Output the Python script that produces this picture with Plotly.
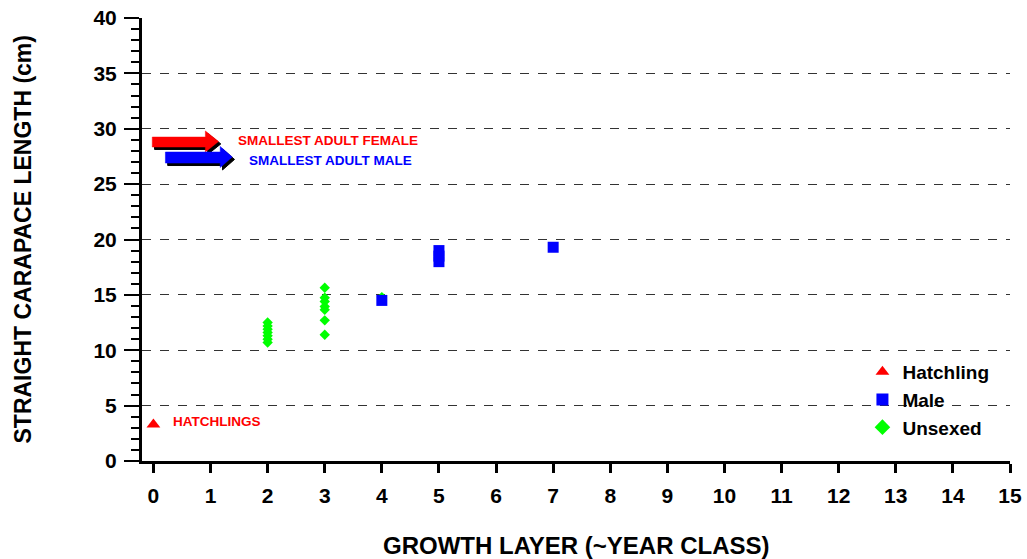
import plotly.graph_objects as go

# ---- data ----
hatch_x = [0]
hatch_y = [3.3]

male_x = [4, 5, 5, 5, 7]
male_y = [14.5, 18.0, 18.5, 19.0, 19.3]

unsexed_x = [2, 2, 2, 2, 2, 2, 2, 3, 3, 3, 3, 3, 3, 3, 4]
unsexed_y = [12.5, 12.2, 11.9, 11.6, 11.3, 11.0, 10.7,
             15.65, 14.75, 14.4, 13.95, 13.65, 12.7, 11.4, 14.8]

x_ticks = list(range(0, 16))
y_ticks = list(range(0, 41, 5))

# arrow annotations (data coordinates): shaft start x, shaft end x, tip x, shaft y0, y1, head y0, y1
female_arrow = dict(x0=-0.02, x1=0.91, xt=1.14, sy0=28.35, sy1=29.25, hy0=27.9, hy1=29.8)
male_arrow = dict(x0=0.21, x1=1.17, xt=1.38, sy0=26.9, sy1=27.9, hy0=26.5, hy1=28.4)

FONT = "Liberation Sans, Arial, sans-serif"

fig = go.Figure()
fig.add_trace(go.Scatter(x=unsexed_x, y=unsexed_y, mode="markers", name="<b>Unsexed</b>", legendrank=3,
                         marker=dict(symbol="diamond", size=8, color="#00ff00")))
fig.add_trace(go.Scatter(x=hatch_x, y=hatch_y, mode="markers", name="<b>Hatchling</b>", legendrank=1,
                         marker=dict(symbol="triangle-up", size=12, color="#ff0000")))
fig.add_trace(go.Scatter(x=male_x, y=male_y, mode="markers", name="<b>Male</b>", legendrank=2,
                         marker=dict(symbol="square", size=11, color="#0000ff")))


def arrow_path(a, dx=0.0, dy=0.0):
    ym = (a["hy0"] + a["hy1"]) / 2
    pts = [(a["x0"], a["sy0"]), (a["x1"], a["sy0"]), (a["x1"], a["hy0"]), (a["xt"], ym),
           (a["x1"], a["hy1"]), (a["x1"], a["sy1"]), (a["x0"], a["sy1"])]
    return "M " + " L ".join(f"{x+dx},{y+dy}" for x, y in pts) + " Z"


shapes = []
for a, col in [(female_arrow, "#ff0000"), (male_arrow, "#0000ff")]:
    shapes.append(dict(type="path", xref="x", yref="y", path=arrow_path(a, 0.04, -0.22),
                       fillcolor="#000000", line=dict(color="#000000", width=1), layer="above"))
    shapes.append(dict(type="path", xref="x", yref="y", path=arrow_path(a),
                       fillcolor=col, line=dict(color=col, width=0.5), layer="above"))

annotations = [
    dict(x=1.45, y=28.9, text="<b>SMALLEST ADULT FEMALE</b>", showarrow=False, xanchor="left",
         font=dict(family=FONT, size=13.5, color="#ff0000")),
    dict(x=1.63, y=27.15, text="<b>SMALLEST ADULT MALE</b>", showarrow=False, xanchor="left",
         font=dict(family=FONT, size=13.5, color="#0000ff")),
    dict(x=0.315, y=3.6, text="<b>HATCHLINGS</b>", showarrow=False, xanchor="left",
         font=dict(family=FONT, size=13.5, color="#ff0000")),
    # axis titles
    dict(xref="paper", yref="paper", x=0.5, y=0, yshift=-84, xanchor="center", yanchor="middle",
         text="<b>GROWTH LAYER (~YEAR CLASS)</b>", showarrow=False,
         font=dict(family=FONT, size=24, color="black")),
    dict(xref="paper", yref="paper", x=0, y=0.5, xshift=-120, xanchor="center", yanchor="middle",
         text="<b>STRAIGHT CARAPACE LENGTH (cm)</b>", textangle=-90, showarrow=False,
         font=dict(family=FONT, size=23, color="black")),
]

fig.update_layout(
    width=1027, height=559,
    margin=dict(l=142, r=17, t=18, b=98, autoexpand=False),
    paper_bgcolor="white", plot_bgcolor="white",
    font=dict(family=FONT, color="black"),
    shapes=shapes, annotations=annotations,
    showlegend=True,
    legend=dict(x=0.83, y=0.244, xanchor="left", yanchor="top", bgcolor="rgba(0,0,0,0)",
                font=dict(family=FONT, size=19, color="black"), tracegroupgap=0,
                itemsizing="constant"),
    xaxis=dict(range=[-0.2, 15], tickvals=x_ticks, ticktext=[f"<b>{v}</b>" for v in x_ticks],
               automargin=False, ticklabeloverflow="allow",
               showgrid=False, zeroline=False, showline=True, linecolor="black", linewidth=3,
               ticks="outside", ticklen=9, tickwidth=3, tickcolor="black", ticklabelstandoff=5,
               tickfont=dict(family=FONT, size=21, color="black")),
    yaxis=dict(range=[0, 40], tickvals=y_ticks, ticktext=[f"<b>{v}</b>" for v in y_ticks],
               automargin=False, ticklabeloverflow="allow",
               showgrid=True, gridcolor="#333333", griddash="dash", gridwidth=1,
               zeroline=False, showline=True, linecolor="black", linewidth=3,
               ticks="outside", ticklen=15, tickwidth=2, tickcolor="black", ticklabelstandoff=3,
               minor=dict(dtick=1, ticks="outside", ticklen=8, tickwidth=2, tickcolor="black",
                          showgrid=False),
               tickfont=dict(family=FONT, size=21, color="black")),
)

# remove the browser's default 8px body margin so the figure fills the window exactly
fig.write_html("out.html", config={"displayModeBar": False},
               post_script="document.body.style.margin='0px';")
